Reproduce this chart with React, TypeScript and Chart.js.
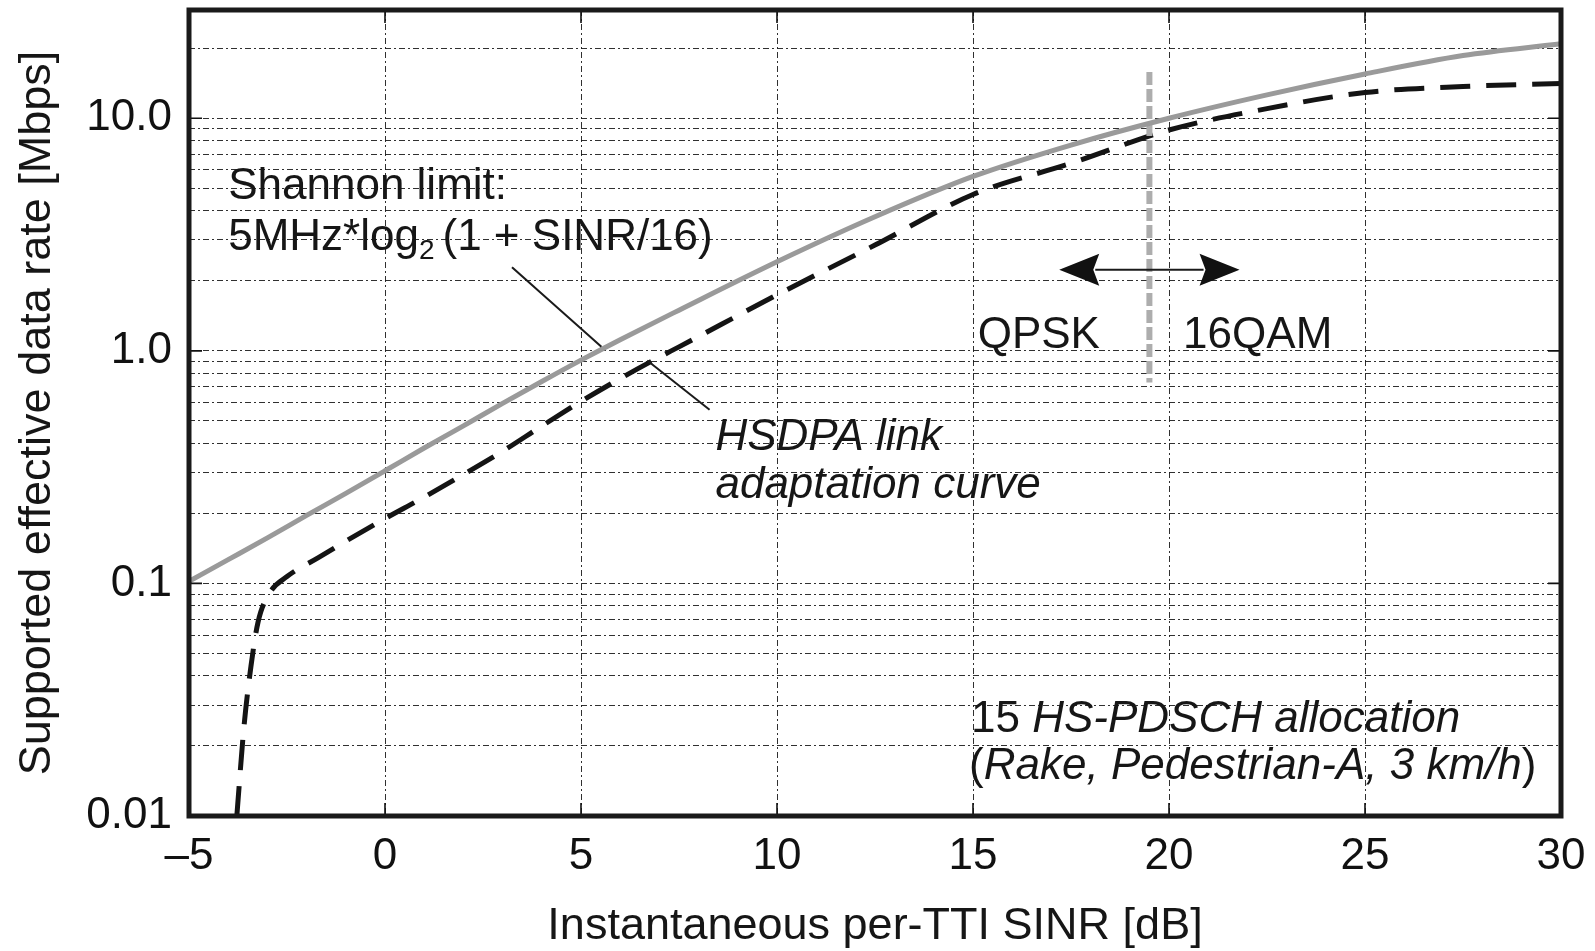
import React, { useEffect, useRef } from 'react';
import { Chart, registerables } from 'chart.js';

Chart.register(...registerables);

const FONT = '"Liberation Sans", Arial, Helvetica, sans-serif';

// ---- data ----
const shannonX = [-5, -4, -3, -2, -1, 0, 1, 2, 3, 4, 5, 6, 7.5, 10, 12.5, 15, 17.5, 20, 22.5, 25, 27.5, 30];
const shannonY = [0.102, 0.1265, 0.157, 0.196, 0.244, 0.305, 0.382, 0.476, 0.594, 0.738, 0.912, 1.117, 1.496, 2.415, 3.77, 5.62, 7.67, 10.0, 12.6, 15.5, 18.6, 20.9];

const hsdpaX = [-3.78, -3.6, -3.42, -3.24, -2.96, -2.5, -1.7, -1, 0, 1, 2, 3, 4, 5, 6, 7, 7.5, 10, 12.5, 15, 17.5, 20, 22.5, 25, 27.5, 30];
const hsdpaY = [0.01, 0.024, 0.044, 0.068, 0.09, 0.107, 0.129, 0.152, 0.19, 0.235, 0.294, 0.37, 0.475, 0.606, 0.76, 0.94, 1.04, 1.74, 2.85, 4.7, 6.4, 8.9, 11.0, 12.9, 13.7, 14.1];

const switchX = [19.5, 19.5];
const switchY = [15.8, 0.73];

const xTickValues = [-5, 0, 5, 10, 15, 20, 25, 30];
const yGridValues = [
  0.01, 0.02, 0.03, 0.04, 0.05, 0.06, 0.07, 0.08, 0.09,
  0.1, 0.2, 0.3, 0.4, 0.5, 0.6, 0.7, 0.8, 0.9,
  1, 2, 3, 4, 5, 6, 7, 8, 9,
  10, 20,
];
const yMajorTicks = [0.01, 0.1, 1, 10];
const yMajorLabels = ['0.01', '0.1', '1.0', '10.0'];

const xTitle = 'Instantaneous per-TTI SINR [dB]';
const yTitle = 'Supported effective data rate [Mbps]';

// annotation anchors in data units [x dB, y Mbps]
const shannonLeader = [3.24, 2.29, 5.52, 1.04];
const hsdpaLeader = [6.69, 0.908, 8.28, 0.558];
const arrowX = [17.2, 21.8];
const arrowY = 2.23;

type Part = { t: string; it?: boolean; sub?: boolean; dx?: number };
const textLabels: { x: number; y: number; parts: Part[] }[] = [
  { x: -4.0, y: 4.49, parts: [{ t: 'Shannon limit:' }] },
  { x: -4.0, y: 2.71, parts: [{ t: '5MHz*log' }, { t: '2', sub: true }, { t: '(1 + SINR/16)', dx: 8 }] },
  { x: 8.43, y: 0.376, parts: [{ t: 'HSDPA link', it: true }] },
  { x: 8.43, y: 0.233, parts: [{ t: 'adaptation curve', it: true }] },
  { x: 15.12, y: 1.03, parts: [{ t: 'QPSK' }] },
  { x: 20.36, y: 1.03, parts: [{ t: '16QAM' }] },
  { x: 14.95, y: 0.02286, parts: [{ t: '15' }, { t: ' HS-PDSCH allocation', it: true }] },
  { x: 14.9, y: 0.01442, parts: [{ t: '(' }, { t: 'Rake, Pedestrian-A, 3 km/h', it: true }, { t: ')' }] },
];

const zip = (xs: number[], ys: number[]) => xs.map((x, i) => ({ x, y: ys[i] }));

const annotPlugin = {
  id: 'annot',
  afterDatasetsDraw(chart: any) {
    const { ctx, chartArea: a, scales } = chart;
    const sx = scales.x;
    const sy = scales.y;
    const px = (v: number) => sx.getPixelForValue(v);
    const py = (v: number) => sy.getPixelForValue(v);
    ctx.save();

    // leader lines
    ctx.strokeStyle = '#1a1a1a';
    ctx.lineWidth = 2;
    for (const l of [shannonLeader, hsdpaLeader]) {
      ctx.beginPath();
      ctx.moveTo(px(l[0]), py(l[1]));
      ctx.lineTo(px(l[2]), py(l[3]));
      ctx.stroke();
    }

    // double arrow
    const ax1 = px(arrowX[0]);
    const ax2 = px(arrowX[1]);
    const ay = py(arrowY);
    const hl = 40, hw = 16;
    ctx.beginPath();
    ctx.moveTo(ax1 + hl - 4, ay);
    ctx.lineTo(ax2 - hl + 4, ay);
    ctx.stroke();
    ctx.fillStyle = '#111';
    ctx.beginPath();
    ctx.moveTo(ax1, ay);
    ctx.lineTo(ax1 + hl, ay - hw);
    ctx.lineTo(ax1 + hl - 6, ay);
    ctx.lineTo(ax1 + hl, ay + hw);
    ctx.closePath();
    ctx.fill();
    ctx.beginPath();
    ctx.moveTo(ax2, ay);
    ctx.lineTo(ax2 - hl, ay - hw);
    ctx.lineTo(ax2 - hl + 6, ay);
    ctx.lineTo(ax2 - hl, ay + hw);
    ctx.closePath();
    ctx.fill();

    // inward ticks
    ctx.strokeStyle = '#111';
    ctx.lineWidth = 1.6;
    const tl = 13;
    for (const v of yMajorTicks) {
      const y = py(v);
      ctx.beginPath();
      ctx.moveTo(a.left, y); ctx.lineTo(a.left + tl, y);
      ctx.moveTo(a.right, y); ctx.lineTo(a.right - tl, y);
      ctx.stroke();
    }
    for (const v of xTickValues) {
      const x = px(v);
      ctx.beginPath();
      ctx.moveTo(x, a.bottom); ctx.lineTo(x, a.bottom - tl);
      ctx.moveTo(x, a.top); ctx.lineTo(x, a.top + tl);
      ctx.stroke();
    }

    // frame
    ctx.strokeStyle = '#1a1a1a';
    ctx.lineWidth = 5;
    ctx.strokeRect(a.left, a.top, a.right - a.left, a.bottom - a.top);

    // texts
    ctx.fillStyle = '#161616';
    ctx.textBaseline = 'alphabetic';
    ctx.textAlign = 'left';
    for (const lab of textLabels) {
      let x = px(lab.x);
      const y = py(lab.y);
      for (const p of lab.parts) {
        const size = p.sub ? 28 : 44;
        ctx.font = `${p.it ? 'italic ' : ''}${size}px ${FONT}`;
        x += p.dx || 0;
        ctx.fillText(p.t, x, y + (p.sub ? 9 : 0));
        x += ctx.measureText(p.t).width;
      }
    }

    // axis titles
    ctx.font = `45px ${FONT}`;
    ctx.textAlign = 'center';
    ctx.fillText(xTitle, (a.left + a.right) / 2, a.bottom + 123);
    ctx.translate(50, (a.top + a.bottom) / 2);
    ctx.rotate(-Math.PI / 2);
    ctx.fillText(yTitle, 0, 0);

    ctx.restore();
  },
};

const gridColor = 'rgba(25,25,25,0.9)';
const gridDash = [6, 3, 2, 3];

export default function App() {
  const ref = useRef<HTMLCanvasElement>(null);
  useEffect(() => {
    Chart.defaults.font.family = FONT;
    const chart = new Chart(ref.current as HTMLCanvasElement, {
      type: 'line',
      data: {
        datasets: [
          {
            label: 'Shannon limit',
            data: zip(shannonX, shannonY),
            borderColor: '#9a9a9a',
            borderWidth: 5,
            pointRadius: 0,
            cubicInterpolationMode: 'monotone',
            order: 0,
          },
          {
            label: 'QPSK/16QAM switch',
            data: zip(switchX, switchY),
            borderColor: '#adadad',
            borderWidth: 6,
            borderDash: [13, 4],
            borderCapStyle: 'butt',
            pointRadius: 0,
            order: 1,
          },
          {
            label: 'HSDPA link adaptation curve',
            data: zip(hsdpaX, hsdpaY),
            borderColor: '#141414',
            borderWidth: 5,
            borderDash: [30, 16],
            pointRadius: 0,
            cubicInterpolationMode: 'monotone',
            order: 2,
          },
        ],
      } as any,
      options: {
        responsive: false,
        animation: false,
        devicePixelRatio: 1,
        layout: { padding: { left: 0, right: 34, top: 10, bottom: 0 } },
        plugins: { legend: { display: false }, tooltip: { enabled: false } },
        scales: {
          x: {
            type: 'linear',
            min: -5,
            max: 30,
            afterBuildTicks: (s: any) => {
              s.ticks = xTickValues.map((v) => ({ value: v }));
            },
            afterFit: (s: any) => {
              s.height = 135;
              s.paddingLeft = 0;
              s.paddingRight = 0;
              s.paddingTop = 0;
              s.paddingBottom = 0;
            },
            ticks: {
              autoSkip: false,
              maxRotation: 0,
              padding: 14,
              color: '#111',
              font: { size: 44, family: FONT },
              callback: (v: any) => (v < 0 ? '\u2013' + Math.abs(v) : String(v)),
            },
            grid: { drawTicks: false, color: gridColor, lineWidth: 1 },
            border: { display: false, dash: gridDash },
          },
          y: {
            type: 'logarithmic',
            min: 0.01,
            max: 29.2,
            afterBuildTicks: (s: any) => {
              s.ticks = yGridValues.map((v) => ({ value: v, major: false }));
            },
            afterFit: (s: any) => {
              s.width = 189;
              s.paddingLeft = 0;
              s.paddingRight = 0;
              s.paddingTop = 0;
              s.paddingBottom = 0;
            },
            ticks: {
              autoSkip: false,
              padding: 17,
              color: '#111',
              font: { size: 44, family: FONT },
              callback: (v: any) => {
                const i = yMajorTicks.indexOf(Number(v));
                return i >= 0 ? yMajorLabels[i] : '';
              },
            },
            grid: { drawTicks: false, color: gridColor, lineWidth: 1 },
            border: { display: false, dash: gridDash },
          },
        },
      } as any,
      plugins: [annotPlugin],
    });
    return () => chart.destroy();
  }, []);

  return (
    <div style={{ position: 'absolute', left: 0, top: 0, width: 1595, height: 951, background: '#fff' }}>
      <canvas ref={ref} width={1595} height={951} style={{ display: 'block' }} />
    </div>
  );
}
